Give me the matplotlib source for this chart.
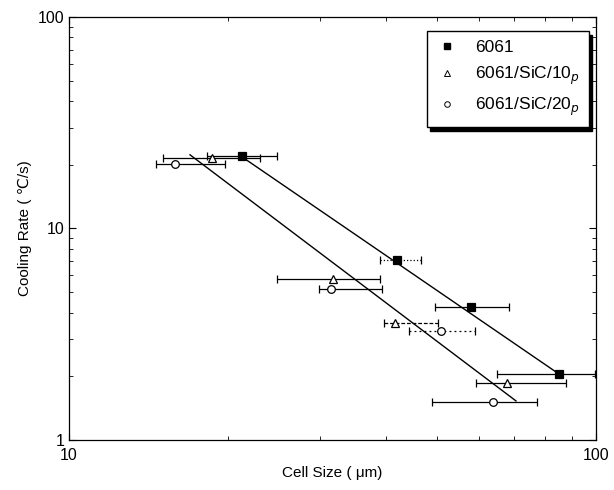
import matplotlib
matplotlib.use("Agg")
import matplotlib.pyplot as plt
from matplotlib.ticker import LogLocator, NullFormatter, FixedLocator, FixedFormatter
from matplotlib.lines import Line2D

plt.rcParams['font.family'] = ['Liberation Sans', 'DejaVu Sans']

# ---- data ----
series_names = ["6061", "6061/SiC/10$_{p}$", "6061/SiC/20$_{p}$"]

x_6061 = [21.3, 41.9, 57.9, 85.1]
y_6061 = [22.1, 7.1, 4.24, 2.05]
xlo_6061 = [18.3, 38.9, 49.5, 65.0]
xhi_6061 = [24.8, 46.5, 68.3, 99.5]

x_sic10 = [18.7, 31.7, 41.6, 67.7]
y_sic10 = [21.6, 5.77, 3.56, 1.85]
xlo_sic10 = [15.1, 24.8, 39.6, 59.2]
xhi_sic10 = [23.0, 38.9, 50.2, 87.6]

x_sic20 = [15.9, 31.4, 50.9, 63.8]
y_sic20 = [20.1, 5.16, 3.29, 1.52]
xlo_sic20 = [14.6, 29.8, 44.2, 48.9]
xhi_sic20 = [19.8, 39.3, 59.0, 77.4]

# fitted lines (end points)
fit_6061_x = [21.3, 85.1]
fit_6061_y = [21.8, 2.05]
fit_comp_x = [16.97, 70.5]
fit_comp_y = [22.3, 1.53]

x_ticks = [10, 100]
x_ticklabels = ["10", "100"]
y_ticks = [1, 10, 100]
y_ticklabels = ["1", "10", "100"]

# ---- figure ----
fig = plt.figure(figsize=(6.14, 4.90), dpi=100)
ax = fig.add_axes([69/614, 1-440/490, (596-69)/614, (440-17)/490])
ax.set_xscale('log')
ax.set_yscale('log')
ax.set_xlim(10, 100)
ax.set_ylim(1, 100)

ax.plot(fit_6061_x, fit_6061_y, color='black', lw=1.0, zorder=2)
ax.plot(fit_comp_x, fit_comp_y, color='black', lw=1.0, zorder=2)

def draw(xs, ys, lo, hi, marker, mfc, styles, ms):
    for i, (x, y, l, h) in enumerate(zip(xs, ys, lo, hi)):
        eb = ax.errorbar([x], [y], xerr=[[x - l], [h - x]], fmt='none',
                         ecolor='black', elinewidth=0.9, capsize=3, capthick=0.9, zorder=3)
        if styles[i] != '-':
            for lc in eb[2]:
                lc.set_linestyle(styles[i])
    ax.plot(xs, ys, linestyle='none', marker=marker, markerfacecolor=mfc,
            markeredgecolor='black', markersize=ms, markeredgewidth=0.9, zorder=4)

draw(x_6061, y_6061, xlo_6061, xhi_6061, 's', 'black', ['-', ':', '-', '-'], 6)
draw(x_sic10, y_sic10, xlo_sic10, xhi_sic10, '^', 'white', ['-', '-', (0, (3, 1.5)), '-'], 6)
draw(x_sic20, y_sic20, xlo_sic20, xhi_sic20, 'o', 'white', ['-', '-', (0, (1.5, 2.5)), '-'], 5.5)

# ticks
ax.xaxis.set_major_locator(FixedLocator(x_ticks))
ax.xaxis.set_major_formatter(FixedFormatter(x_ticklabels))
ax.yaxis.set_major_locator(FixedLocator(y_ticks))
ax.yaxis.set_major_formatter(FixedFormatter(y_ticklabels))
ax.xaxis.set_minor_locator(LogLocator(base=10, subs=range(2, 10)))
ax.yaxis.set_minor_locator(LogLocator(base=10, subs=range(2, 10)))
ax.xaxis.set_minor_formatter(NullFormatter())
ax.yaxis.set_minor_formatter(NullFormatter())
ax.tick_params(which='both', direction='in', top=True, right=True, labelsize=11.5)
ax.tick_params(which='major', length=5, width=0.8)
ax.tick_params(which='minor', length=3, width=0.6)
ax.tick_params(axis='x', pad=6)
for s in ax.spines.values():
    s.set_linewidth(0.9)

ax.set_xlabel("Cell Size ( \u03bcm)", fontsize=11, labelpad=2)
ax.set_ylabel("Cooling Rate ( \u2103/s)", fontsize=11, labelpad=4,
              fontfamily=['Liberation Sans', 'DejaVu Sans'])

# legend
handles = [
    Line2D([], [], linestyle='none', marker='s', markerfacecolor='black', markeredgecolor='black', markersize=4),
    Line2D([], [], linestyle='none', marker='^', markerfacecolor='white', markeredgecolor='black', markersize=4, markeredgewidth=0.7),
    Line2D([], [], linestyle='none', marker='o', markerfacecolor='white', markeredgecolor='black', markersize=4, markeredgewidth=0.7),
]
leg = ax.legend(handles, series_names, loc='upper right', bbox_to_anchor=(0.993, 0.975),
                fontsize=12.5, frameon=True, fancybox=False,
                shadow={'color': 'black', 'alpha': 1, 'ox': 2.5, 'oy': -2.5},
                borderpad=0.5, handlelength=1.3, handletextpad=1.0, labelspacing=0.55,
                borderaxespad=0.2, edgecolor='black')
leg.get_frame().set_linewidth(1.0)

fig.savefig("out.png", dpi=100, facecolor='white')
